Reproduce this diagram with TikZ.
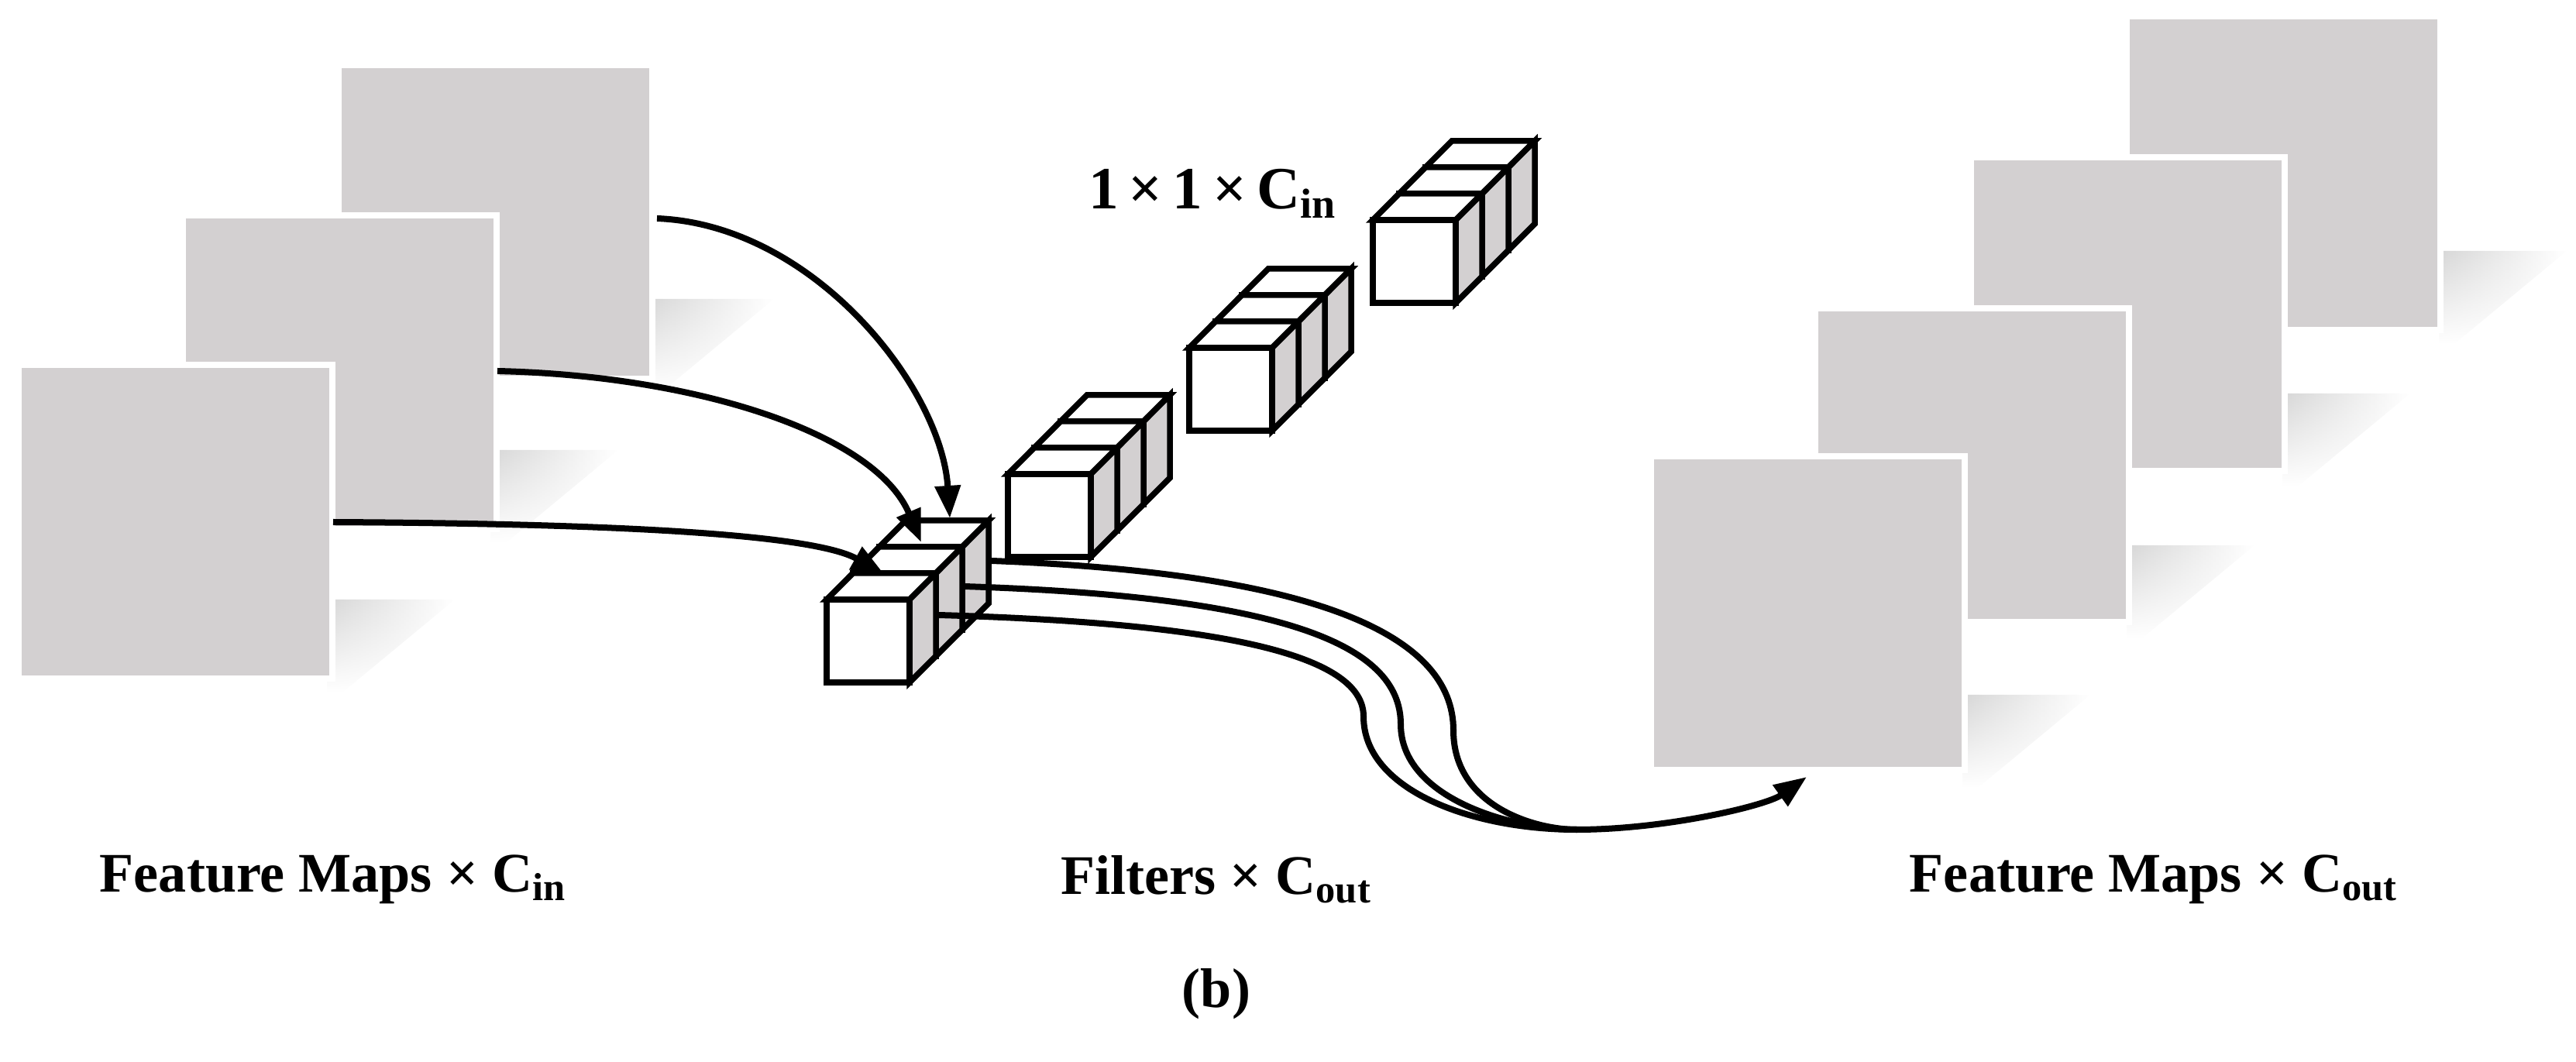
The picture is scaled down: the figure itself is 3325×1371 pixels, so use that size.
\documentclass[tikz,border=0pt]{standalone}
\usepackage{fontspec}
\setmainfont{Liberation Serif}
\usetikzlibrary{arrows.meta,fadings}
\definecolor{fmgray}{RGB}{211,208,209}
\begin{document}
\begin{tikzpicture}[x=0.01cm,y=-0.01cm,
  fm/.style={fill=fmgray,draw=white,line width=0.08cm,minimum size=4.05cm,inner sep=0pt,outer sep=0pt,anchor=north west},
  conn/.style={line width=0.08cm},
  arr/.style={conn,-{Triangle[length=0.42cm,width=0.32cm]}},
  cubeline/.style={line width=0.075cm,line join=miter},
  lab/.style={font=\fontsize{20.5}{24}\selectfont\bfseries}]
\useasboundingbox (0,0) rectangle (3325,1371);
% shadow macro
\newcommand{\fmshadow}[2]{%
  \shade[left color=gray!40,right color=white,path fading=south,opacity=0.8] (#1-5,#2-100) -- (#1+160,#2-100) -- (#1+15,#2+20) -- (#1-5,#2+20) -- cycle;}
% left feature maps
\fmshadow{839}{486}
\node[fm] (L1) at (437,84) {};
\fmshadow{638}{681}
\node[fm] (L2) at (236,278) {};
\fmshadow{427}{874}
\node[fm] (L3) at (24,471) {};
% right feature maps
\fmshadow{3153}{424}
\node[fm] (R4) at (2745,21) {};
\fmshadow{2951}{608}
\node[fm] (R3) at (2544,203) {};
\fmshadow{2750}{804}
\node[fm] (R2) at (2343,398) {};
\fmshadow{2538}{997}
\node[fm] (R1) at (2131,589) {};
% cubes
\newcommand{\onecube}[2]{%
  \filldraw[cubeline,fill=white] (#1,#2) -- ++(34,-34) -- ++(107,0) -- ++(-34,34) -- cycle;
  \filldraw[cubeline,fill=fmgray] (#1+107,#2) -- ++(34,-34) -- ++(0,107) -- ++(-34,34) -- cycle;
  \filldraw[cubeline,fill=white] (#1,#2) rectangle ++(107,107);}
\newcommand{\filter}[2]{%
  \onecube{#1+68}{#2-68}\onecube{#1+34}{#2-34}\onecube{#1}{#2}}
\filter{1301}{612}
\filter{1535}{449}
\filter{1772}{284}
\filter{1067}{774}
% input arrows
\coordinate (a1) at (848,282); \coordinate (t1) at (1226,669);
\coordinate (a2) at (642,479); \coordinate (t2) at (1189,700);
\coordinate (a3) at (430,674); \coordinate (t3) at (1141,741);
\draw[arr] (a1) .. controls (1050,290) and (1215,500) .. (t1);
\draw[arr] (a2) .. controls (900,485) and (1130,560) .. (t2);
\draw[arr] (a3) .. controls (800,676) and (1050,690) .. (t3);
% output lines
\coordinate (o1) at (1280,724); \coordinate (o2) at (1244,757); \coordinate (o3) at (1211,794);
\coordinate (m) at (2035,1071); \coordinate (tip) at (2332,1003);
\draw[conn] (o1) .. controls (1700,740) and (1876,820) .. (1876,943) .. controls (1876,1040) and (1980,1071) .. (m);
\draw[conn] (o2) .. controls (1650,770) and (1808,830) .. (1808,935) .. controls (1808,1030) and (1950,1071) .. (m);
\draw[conn] (o3) .. controls (1600,805) and (1760,850) .. (1760,925) .. controls (1760,1020) and (1900,1071) .. (m);
\draw[arr] (m) .. controls (2150,1071) and (2280,1040) .. (tip);
% labels
\node[font=\fontsize{22}{26}\selectfont\bfseries] (k) at (1565,250) {1\,×\,1\,×\,C\textsubscript{in}};
\node[lab] (l1) at (430,1135) {Feature Maps × C\textsubscript{in}};
\node[lab] (l2) at (1570,1135) {Filters × C\textsubscript{out}};
\node[lab] (l3) at (2780,1135) {Feature Maps × C\textsubscript{out}};
\node[lab] (b) at (1570,1283) {(b)};
\end{tikzpicture}
\end{document}
